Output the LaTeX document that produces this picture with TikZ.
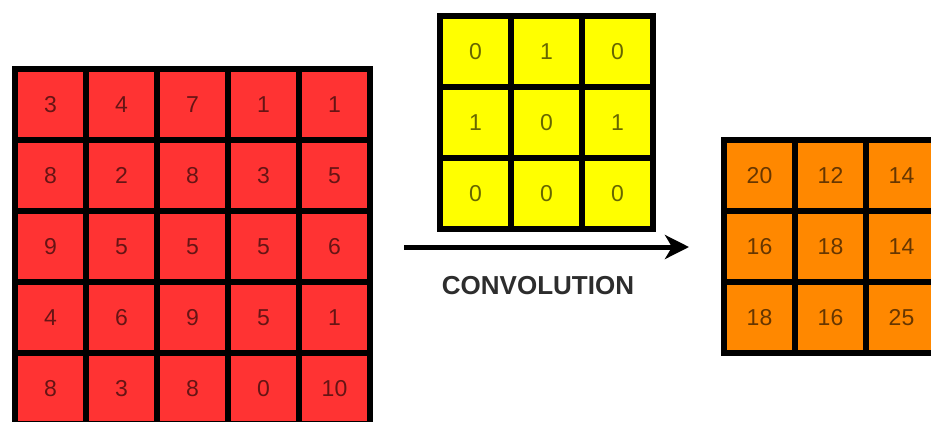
\documentclass[tikz,border=0pt]{standalone}
\usepackage{fontspec}
\setmainfont{Liberation Sans}
\usetikzlibrary{arrows.meta}
\definecolor{cellred}{RGB}{255,51,51}
\definecolor{cellyellow}{RGB}{255,255,0}
\definecolor{cellorange}{RGB}{255,136,0}
\definecolor{labelgray}{RGB}{45,45,45}
\tikzset{
  cell/.style={draw=black, line width=6pt, minimum size=71pt, inner sep=0pt,
    text=black, text opacity=0.6, font=\fontsize{23}{23}\selectfont},
  redcell/.style={cell, fill=cellred},
  yellowcell/.style={cell, fill=cellyellow},
  orangecell/.style={cell, fill=cellorange},
  convarrow/.style={line width=5pt, -{Stealth[length=24pt,width=24pt,inset=7pt]}},
  convlabel/.style={text=labelgray, font=\bfseries\fontsize{26}{26}\selectfont}
}
\begin{document}
\begin{tikzpicture}[x=1pt,y=-1pt]
\useasboundingbox (0,0) rectangle (931,421);
\clip (0,0) rectangle (931,421);
\fill[white] (0,0) rectangle (931,421);
% input 5x5
\foreach \row/\vals in {0/{3,4,7,1,1},1/{8,2,8,3,5},2/{9,5,5,5,6},3/{4,6,9,5,1},4/{8,3,8,0,10}}{
  \foreach \v [count=\c from 0] in \vals {
    \node[redcell] (in-\row-\c) at ({50.5+71*\c},{104.5+71*\row}) {\v};
  }
}
% kernel 3x3
\foreach \row/\vals in {0/{0,1,0},1/{1,0,1},2/{0,0,0}}{
  \foreach \v [count=\c from 0] in \vals {
    \node[yellowcell] (k-\row-\c) at ({475.5+71*\c},{51.5+71*\row}) {\v};
  }
}
% output 3x3
\foreach \row/\vals in {0/{20,12,14},1/{16,18,14},2/{18,16,25}}{
  \foreach \v [count=\c from 0] in \vals {
    \node[orangecell] (out-\row-\c) at ({759.5+71*\c},{175.5+71*\row}) {\v};
  }
}
\coordinate (arrowstart) at (404,247);
\coordinate (arrowend) at (689,247);
\draw[convarrow] (arrowstart) -- (arrowend);
\node[convlabel] (conv) at (538,286) {CONVOLUTION};
\end{tikzpicture}
\end{document}
